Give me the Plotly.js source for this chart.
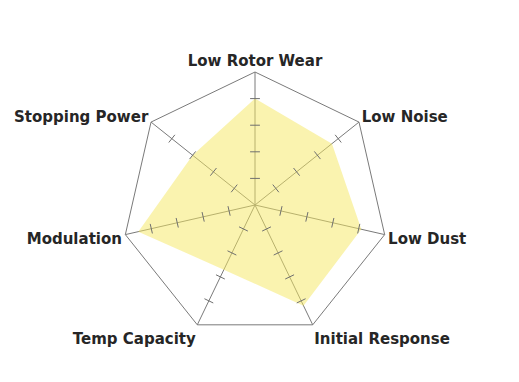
<!DOCTYPE html>
<html>
<head>
<meta charset="utf-8">
<script src="https://cdn.plot.ly/plotly-3.0.1.min.js"></script>
<style>html,body{margin:0;padding:0;background:#fff;}#chart{width:519px;height:382px;}</style>
</head>
<body>
<div id="chart"></div>
<script>
const categories = ["Low Rotor Wear", "Low Noise", "Low Dust", "Initial Response", "Temp Capacity", "Modulation", "Stopping Power"];
const values = [4, 3.7, 4.1, 4.2, 2.7, 4.5, 3];
const tickValues = [1, 2, 3, 4];
const rangeMax = 5;

const tickR = [], tickTheta = [], tickAngle = [];
categories.forEach((c, i) => {
  tickValues.forEach(v => {
    tickR.push(v);
    tickTheta.push(c);
    tickAngle.push(i * 360 / categories.length);
  });
});

const traces = [
  {
    type: "scatterpolar",
    r: values,
    theta: categories,
    fill: "toself",
    fillcolor: "rgba(246,232,95,0.5)",
    line: {width: 0, color: "rgba(0,0,0,0)"},
    mode: "lines",
    hoverinfo: "skip",
    showlegend: false
  },
  {
    type: "scatterpolar",
    r: tickR,
    theta: tickTheta,
    mode: "markers",
    marker: {symbol: "line-ew", size: 7, angle: tickAngle, line: {width: 1, color: "#6f6f6f"}, color: "#6f6f6f"},
    hoverinfo: "skip",
    showlegend: false
  }
];

const layout = {
  width: 519,
  height: 382,
  margin: {l: 0, r: 0, t: 0, b: 0},
  paper_bgcolor: "#ffffff",
  showlegend: false,
  font: {family: "DejaVu Sans", size: 15, color: "#262626"},
  polar: {
    domain: {x: [0.2351, 0.7476], y: [0.1152, 0.8115]},
    bgcolor: "rgba(0,0,0,0)",
    gridshape: "linear",
    radialaxis: {
      range: [0, rangeMax],
      showline: false,
      showticklabels: false,
      ticks: "",
      showgrid: false
    },
    angularaxis: {
      type: "category",
      categoryarray: categories,
      rotation: 90,
      direction: "clockwise",
      showline: true,
      linecolor: "#7a7a7a",
      linewidth: 1,
      showgrid: true,
      gridcolor: "#7a7a7a",
      gridwidth: 1,
      ticks: "",
      tickfont: {family: "DejaVu Sans", size: 15, color: "#262626", weight: "bold"}
    }
  }
};

Plotly.newPlot("chart", traces, layout, {displayModeBar: false, staticPlot: true});
</script>
</body>
</html>
